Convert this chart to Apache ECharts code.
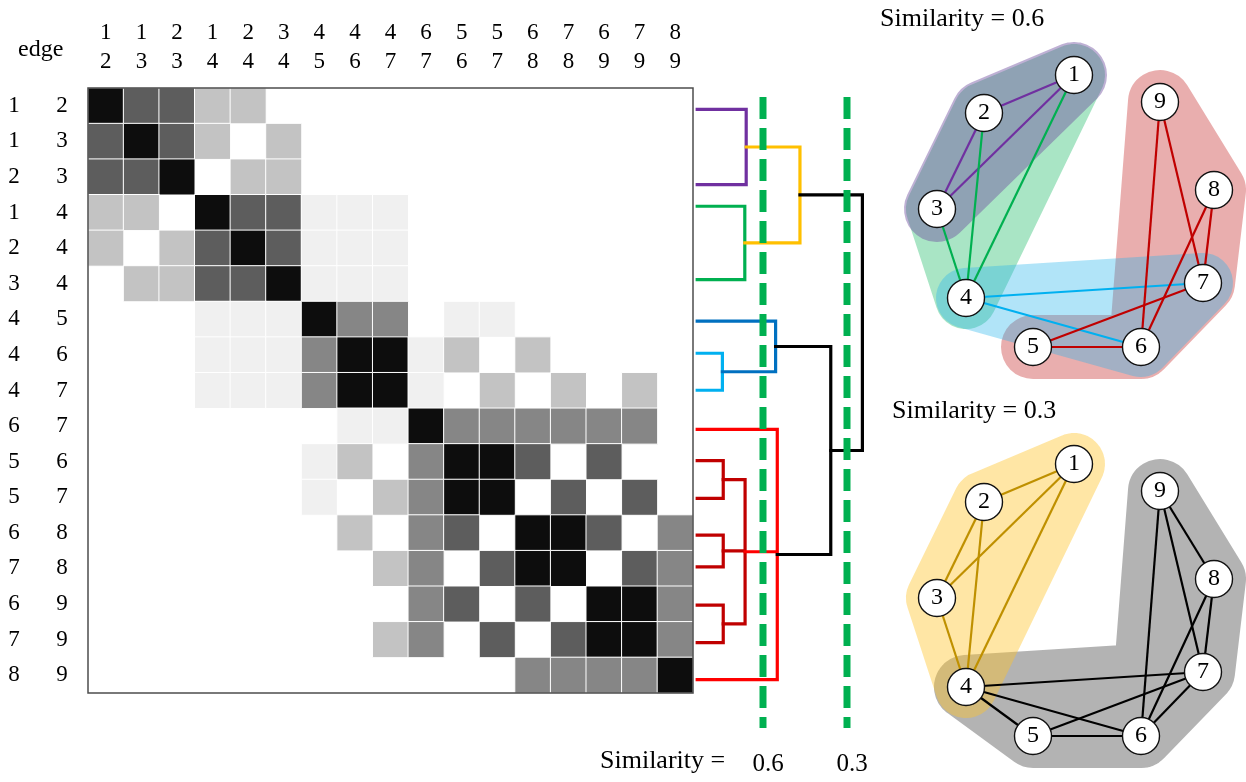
<!DOCTYPE html>
<html>
<head>
<meta charset="utf-8">
<script src="https://cdn.jsdelivr.net/npm/echarts@6/dist/echarts.min.js"></script>
<style>
  html, body { margin: 0; padding: 0; background: #fff; }
  #chart { width: 1246px; height: 782px; }
</style>
</head>
<body>
<div id="chart"></div>
<script>
// ---- edge list (rows / columns of the similarity matrix) ----
const edgeFrom = [1, 1, 2, 1, 2, 3, 4, 4, 4, 6, 5, 5, 6, 7, 6, 7, 8];
const edgeTo   = [2, 3, 3, 4, 4, 4, 5, 6, 7, 7, 6, 7, 8, 8, 9, 9, 9];

// ---- edge-to-edge similarity, one row per edge ----
const simRows = [
  [1, .67, .67, .25, .25, 0, 0, 0, 0, 0, 0, 0, 0, 0, 0, 0, 0],
  [.67, 1, .67, .25, 0, .25, 0, 0, 0, 0, 0, 0, 0, 0, 0, 0, 0],
  [.67, .67, 1, 0, .25, .25, 0, 0, 0, 0, 0, 0, 0, 0, 0, 0, 0],
  [.25, .25, 0, 1, .67, .67, .06, .06, .06, 0, 0, 0, 0, 0, 0, 0, 0],
  [.25, 0, .25, .67, 1, .67, .06, .06, .06, 0, 0, 0, 0, 0, 0, 0, 0],
  [0, .25, .25, .67, .67, 1, .06, .06, .06, 0, 0, 0, 0, 0, 0, 0, 0],
  [0, 0, 0, .06, .06, .06, 1, .5, .5, 0, .06, .06, 0, 0, 0, 0, 0],
  [0, 0, 0, .06, .06, .06, .5, 1, 1, .06, .25, 0, .25, 0, 0, 0, 0],
  [0, 0, 0, .06, .06, .06, .5, 1, 1, .06, 0, .25, 0, .25, 0, .25, 0],
  [0, 0, 0, 0, 0, 0, 0, .06, .06, 1, .5, .5, .5, .5, .5, .5, 0],
  [0, 0, 0, 0, 0, 0, .06, .25, 0, .5, 1, 1, .67, 0, .67, 0, 0],
  [0, 0, 0, 0, 0, 0, .06, 0, .25, .5, 1, 1, 0, .67, 0, .67, 0],
  [0, 0, 0, 0, 0, 0, 0, .25, 0, .5, .67, 0, 1, 1, .67, 0, .5],
  [0, 0, 0, 0, 0, 0, 0, 0, .25, .5, 0, .67, 1, 1, 0, .67, .5],
  [0, 0, 0, 0, 0, 0, 0, 0, 0, .5, .67, 0, .67, 0, 1, 1, .5],
  [0, 0, 0, 0, 0, 0, 0, 0, .25, .5, 0, .67, 0, .67, 1, 1, .5],
  [0, 0, 0, 0, 0, 0, 0, 0, 0, 0, 0, 0, .5, .5, .5, .5, 1]
];

// ---- dendrogram: leaf positions (matrix-row units) and merges ----
const leafPos = [0.6, 2.71, 3.32, 5.38, 6.55, 7.45, 8.49, 9.59, 10.47, 11.53, 12.56, 13.45, 14.53, 15.58, 16.62];
const leafSim = 0.835;
const merges = [
  { children: [0, 1],       sim: 0.66,  group: 'purple' },    // 15
  { children: [2, 3],       sim: 0.665, group: 'green' },     // 16
  { children: [15, 16],     sim: 0.468, group: 'yellow' },    // 17
  { children: [5, 6],       sim: 0.745, group: 'lightblue' }, // 18
  { children: [4, 18],      sim: 0.555, group: 'blue' },      // 19
  { children: [8, 9],       sim: 0.742, group: 'darkred' },   // 20
  { children: [10, 11],     sim: 0.742, group: 'darkred' },   // 21
  { children: [12, 13],     sim: 0.742, group: 'darkred' },   // 22
  { children: [20, 21, 22], sim: 0.664, group: 'darkred' },   // 23
  { children: [7, 23, 14],  sim: 0.549, group: 'red' },       // 24
  { children: [19, 24],     sim: 0.358, group: 'black' },     // 25
  { children: [17, 25],     sim: 0.245, group: 'black' }      // 26
];
const cutLevels = [0.6, 0.3];

// ---- network: node layout and links for each cut ----
const nodeNames = ['1', '2', '3', '4', '5', '6', '7', '8', '9'];
const nodeX = [174, 84, 37, 66, 133, 241, 303, 314, 260];
const nodeY = [35, 73, 169, 258, 307, 307, 243, 150, 62];

const linksHigh = [
  [1, 2, 'purple'], [1, 3, 'purple'], [2, 3, 'purple'],
  [1, 4, 'green'], [2, 4, 'green'], [3, 4, 'green'],
  [4, 7, 'lightblue'], [4, 6, 'lightblue'],
  [5, 6, 'darkred'], [5, 7, 'darkred'], [6, 8, 'darkred'], [7, 8, 'darkred'], [6, 9, 'darkred'], [7, 9, 'darkred']
];
const linksLow = [
  [1, 2, 'gold'], [1, 3, 'gold'], [2, 3, 'gold'], [1, 4, 'gold'], [2, 4, 'gold'], [3, 4, 'gold'],
  [4, 5, 'black'], [4, 6, 'black'], [4, 7, 'black'], [6, 7, 'black'], [5, 6, 'black'], [5, 7, 'black'],
  [6, 8, 'black'], [7, 8, 'black'], [6, 9, 'black'], [7, 9, 'black'], [8, 9, 'black']
];

// community outlines: node sequences traced by a wide translucent stroke
const hullsHigh = [
  { group: 'green',     paths: [[1, 2, 3, 4, 1, 3], [2, 4]] },
  { group: 'darkred',   paths: [[5, 6, 7, 8, 9, 6]] },
  { group: 'purple',    paths: [[1, 2, 3, 1]] },
  { group: 'lightblue', paths: [[4, 7, 6, 4]] }
];
const hullsLow = [
  { group: 'black', paths: [[4, 5, 6, 7, 8, 9, 6], [4, 7], [4, 6]] },
  { group: 'gold',  paths: [[1, 2, 3, 4, 1, 3], [2, 4]] }
];

// ---- styles ----
const lineColor = {
  purple: '#7030a0', green: '#00b050', yellow: '#ffc000', lightblue: '#00b0f0',
  blue: '#0070c0', darkred: '#c00000', red: '#ff0000', black: '#000000', gold: '#bf9000'
};
const hullStyle = {
  green:     { color: 'rgba(40,190,110,0.40)', width: 62 },
  darkred:   { color: 'rgba(195,30,30,0.36)',  width: 64 },
  purple:    { color: 'rgba(110,80,160,0.45)', width: 66 },
  lightblue: { color: 'rgba(40,180,235,0.36)', width: 60 },
  black:     { color: 'rgba(90,90,90,0.46)',   width: 64 },
  gold:      { color: 'rgba(255,195,40,0.42)', width: 62 }
};
const SERIF = "'Liberation Serif', 'Times New Roman', serif";

// ---- derived data ----
const edgeKeys = edgeFrom.map((a, i) => a + '-' + edgeTo[i]);
const cells = [];
simRows.forEach((row, r) => row.forEach((v, c) => { if (v > 0) cells.push([c, r, v]); }));

const treePos = leafPos.slice();
const treeSim = leafPos.map(() => leafSim);
merges.forEach(m => {
  const ys = m.children.map(c => treePos[c]);
  treePos.push((Math.min(...ys) + Math.max(...ys)) / 2);
  treeSim.push(m.sim);
});

function graphSeries(links, gridIdx) {
  return {
    type: 'graph',
    coordinateSystem: 'cartesian2d',
    xAxisIndex: gridIdx, yAxisIndex: gridIdx,
    z: 3,
    symbol: 'circle',
    symbolSize: 37,
    silent: true,
    itemStyle: { color: '#ffffff', borderColor: '#111', borderWidth: 1.4 },
    label: { show: true, position: 'inside', formatter: '{b}', fontFamily: SERIF, fontSize: 24, color: '#000' },
    lineStyle: { width: 2.2, opacity: 1 },
    emphasis: { disabled: true },
    data: nodeNames.map((n, i) => ({ name: n, value: [nodeX[i], nodeY[i]] })),
    links: links.map(l => ({ source: String(l[0]), target: String(l[1]), lineStyle: { color: lineColor[l[2]] } }))
  };
}

function hullSeries(hulls, gridIdx) {
  return {
    type: 'custom',
    coordinateSystem: 'cartesian2d',
    xAxisIndex: gridIdx, yAxisIndex: gridIdx,
    z: 1,
    silent: true,
    data: hulls.map((h, i) => [nodeX[h.paths[0][0] - 1], nodeY[h.paths[0][0] - 1], i]),
    renderItem(params, api) {
      const h = hulls[api.value(2)];
      let d = '';
      h.paths.forEach(p => p.forEach((id, k) => {
        const pt = api.coord([nodeX[id - 1], nodeY[id - 1]]);
        d += (k ? 'L' : 'M') + pt[0].toFixed(1) + ' ' + pt[1].toFixed(1) + ' ';
      }));
      const st = hullStyle[h.group];
      return {
        type: 'path',
        shape: { pathData: d },
        style: { fill: null, stroke: st.color, lineWidth: st.width, lineJoin: 'round', lineCap: 'round' }
      };
    }
  };
}

const chart = echarts.init(document.getElementById('chart'), null, { renderer: 'canvas' });

chart.setOption({
  animation: false,
  backgroundColor: '#ffffff',
  textStyle: { fontFamily: SERIF },
  grid: [
    { left: 88, top: 88, width: 605, height: 605, show: true, z: 5,
      backgroundColor: 'transparent', borderColor: '#4d4d4d', borderWidth: 1.5 },
    { left: 695.8, top: 97, width: 179.2, height: 631 },
    { left: 900, top: 40, width: 340, height: 340 },
    { left: 900, top: 429, width: 340, height: 340 }
  ],
  xAxis: [
    { gridIndex: 0, type: 'category', data: edgeKeys, position: 'top',
      axisLine: { show: false }, axisTick: { show: false }, splitLine: { show: false },
      axisLabel: {
        interval: 0, margin: 12, color: '#000',
        formatter: v => { const p = v.split('-'); return '{n|' + p[0] + '}\n{n|' + p[1] + '}'; },
        rich: { n: { fontFamily: SERIF, fontSize: 23, lineHeight: 29, color: '#000' } }
      } },
    { gridIndex: 1, type: 'value', min: 0.2, max: 0.84, inverse: true, position: 'bottom',
      axisLine: { show: false }, axisTick: { show: false }, splitLine: { show: false },
      axisLabel: { customValues: cutLevels, margin: 24, fontFamily: SERIF, fontSize: 25, color: '#000',
        padding: [0, 0, 0, 10], formatter: v => v.toFixed(1) } },
    { gridIndex: 2, type: 'value', min: 0, max: 340, show: false },
    { gridIndex: 3, type: 'value', min: 0, max: 340, show: false }
  ],
  yAxis: [
    { gridIndex: 0, type: 'category', data: edgeKeys, inverse: true,
      axisLine: { show: false }, axisTick: { show: false }, splitLine: { show: false },
      axisLabel: {
        interval: 0, margin: 6,
        formatter: v => { const p = v.split('-'); return '{a|' + p[0] + '}{b|' + p[1] + '}'; },
        rich: {
          a: { width: 56, align: 'center', fontFamily: SERIF, fontSize: 23, color: '#000' },
          b: { width: 40, align: 'center', fontFamily: SERIF, fontSize: 23, color: '#000' }
        }
      } },
    { gridIndex: 1, type: 'value', min: 0.25, max: 17.98, inverse: true, show: false },
    { gridIndex: 2, type: 'value', min: 0, max: 340, inverse: true, show: false },
    { gridIndex: 3, type: 'value', min: 0, max: 340, inverse: true, show: false }
  ],
  visualMap: {
    type: 'continuous', show: false, seriesIndex: 0, dimension: 2,
    min: 0, max: 1, inRange: { color: ['#ffffff', '#0d0d0d'] }
  },
  graphic: [
    { type: 'text', left: 18, top: 38, style: { text: 'edge', fontFamily: SERIF, fontSize: 24, fill: '#000' } },
    { type: 'text', left: 600, top: 748, style: { text: 'Similarity =', fontFamily: SERIF, fontSize: 26, fill: '#000' } },
    { type: 'text', left: 880, top: 6, style: { text: 'Similarity = 0.6', fontFamily: SERIF, fontSize: 26, fill: '#000' } },
    { type: 'text', left: 892, top: 398, style: { text: 'Similarity = 0.3', fontFamily: SERIF, fontSize: 26, fill: '#000' } }
  ],
  series: [
    {
      type: 'heatmap', xAxisIndex: 0, yAxisIndex: 0, data: cells, silent: true,
      itemStyle: { borderColor: '#ffffff', borderWidth: 1 },
      emphasis: { disabled: true }
    },
    {
      type: 'custom', coordinateSystem: 'cartesian2d', xAxisIndex: 1, yAxisIndex: 1, silent: true, z: 2,
      data: merges.map((m, i) => [m.sim, treePos[leafPos.length + i], i]),
      renderItem(params, api) {
        const m = merges[api.value(2)];
        const ys = m.children.map(c => treePos[c]);
        let d = '';
        m.children.forEach(c => {
          const p0 = api.coord([treeSim[c], treePos[c]]);
          const p1 = api.coord([m.sim, treePos[c]]);
          d += 'M' + p0[0] + ' ' + p0[1] + ' L' + p1[0] + ' ' + p1[1] + ' ';
        });
        const t = api.coord([m.sim, Math.min(...ys)]);
        const b = api.coord([m.sim, Math.max(...ys)]);
        d += 'M' + t[0] + ' ' + t[1] + ' L' + b[0] + ' ' + b[1];
        return {
          type: 'path', shape: { pathData: d },
          style: { fill: null, stroke: lineColor[m.group], lineWidth: 3.2, lineCap: 'square', lineJoin: 'miter' }
        };
      }
    },
    ...cutLevels.map(s => ({
      type: 'line', xAxisIndex: 1, yAxisIndex: 1, z: 4, silent: true, symbol: 'none',
      data: [[s, 0.25], [s, 17.98]],
      lineStyle: { color: '#00b050', width: 7, type: [22, 9] }
    })),
    hullSeries(hullsHigh, 2),
    graphSeries(linksHigh, 2),
    hullSeries(hullsLow, 3),
    graphSeries(linksLow, 3)
  ]
});
</script>
</body>
</html>
